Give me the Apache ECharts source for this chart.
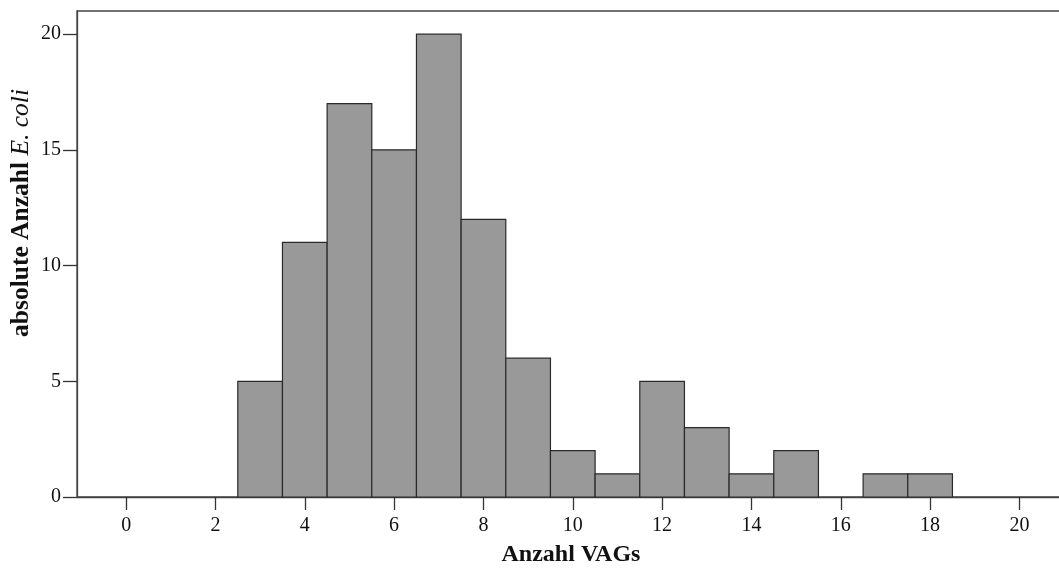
<!DOCTYPE html>
<html><head><meta charset="utf-8">
<script src="https://cdn.jsdelivr.net/npm/echarts@6/dist/echarts.min.js"></script>
<style>html,body{margin:0;padding:0;background:#fff}#c{width:1059px;height:571px}</style>
</head><body><div id="c"></div>
<script>
const binCenters = [3,4,5,6,7,8,9,10,11,12,13,14,15,16,17,18];
const counts     = [5,11,17,15,20,12,6,2,1,5,3,1,2,0,1,1];
const xTicks = [0,2,4,6,8,10,12,14,16,18,20];
const yTicks = [0,5,10,15,20];

const data = binCenters.map((x,i)=>[x, counts[i]]).filter(d=>d[1]>0);
const chart = echarts.init(document.getElementById('c'));
const font = '"Liberation Serif", "Times New Roman", serif';
chart.setOption({
  animation:false,
  grid:{left:77, top:11, right:-6, bottom:74, show:true, borderColor:'#444', borderWidth:1.3,
    outerBoundsMode:'none', containLabel:false},
  xAxis:{type:'value', min:-1.1, max:21.02,
    name:'Anzahl VAGs', nameLocation:'middle', nameGap:46,
    nameTextStyle:{fontFamily:font, fontWeight:'bold', fontSize:24, color:'#111', padding:[0,0,0,0]},
    axisLine:{show:true, onZero:false, lineStyle:{color:'#444', width:1.3}},
    axisTick:{show:true, length:13, customValues:xTicks, lineStyle:{color:'#333', width:1.3}},
    axisLabel:{customValues:xTicks, fontFamily:font, fontSize:20, color:'#111', margin:19},
    splitLine:{show:false}},
  yAxis:{type:'value', min:0, max:21,
    axisLine:{show:true, onZero:false, lineStyle:{color:'#444', width:1.3}},
    axisTick:{show:true, length:14, customValues:yTicks, lineStyle:{color:'#333', width:1.3}},
    axisLabel:{customValues:yTicks, fontFamily:font, fontSize:20, color:'#111', margin:16},
    splitLine:{show:false}},
  graphic:[{type:'text', x:21, y:213, rotation:Math.PI/2,
    style:{text:'{b|absolute Anzahl }{i|E. coli}', align:'center', verticalAlign:'middle',
      rich:{
        b:{fontFamily:font, fontWeight:'bold', fontSize:25.5, fill:'#111'},
        i:{fontFamily:font, fontStyle:'italic', fontSize:25.5, fill:'#111'}}}}],
  series:[{type:'custom', data:data,
    renderItem:function(params, api){
      const x = api.value(0), y = api.value(1);
      const p1 = api.coord([x-0.5, y]);
      const p2 = api.coord([x+0.5, 0]);
      return {type:'rect', shape:{x:p1[0], y:p1[1], width:p2[0]-p1[0], height:p2[1]-p1[1]},
        style:{fill:'#999999', stroke:'#2a2a2a', lineWidth:1.2}};
    }}]
});
</script></body></html>
